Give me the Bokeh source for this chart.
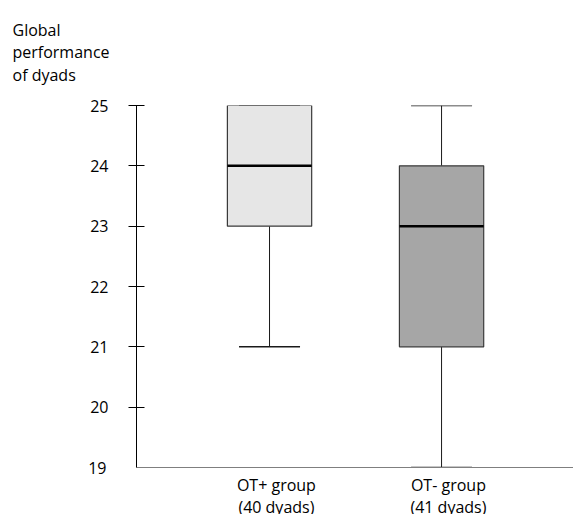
from bokeh.plotting import figure
from bokeh.models import (ColumnDataSource, FixedTicker, Range1d, Whisker, TeeHead,
                          LinearAxis, Title)
from bokeh.embed import file_html
from bokeh.resources import INLINE

# ---- data ----
groups = ["OT+ group", "OT- group"]
sizes = ["(40 dyads)", "(41 dyads)"]
xpos = [1, 2]
q1 = [23, 21]
median = [24, 23]
q3 = [25, 24]
lower = [21, 19]
upper = [25, 25]
fills = ["#e6e6e6", "#a6a6a6"]
y_ticks = [20, 21, 22, 23, 24, 25]
y_corner_tick = [19]
y_title = ["Global", "performance", "of dyads"]

FONT = "Open Sans"
BOX_W = 0.49
X0, X1 = 0.2267, 2.767
LABEL_SHIFT = 0.04  # category labels sit slightly right of the box centres

src = ColumnDataSource(dict(
    x=xpos, q1=q1, med=median, q3=q3, lo=lower, hi=upper, fill=fills,
    mx0=[x - BOX_W / 2 for x in xpos], mx1=[x + BOX_W / 2 for x in xpos],
))

p = figure(frame_width=437, frame_height=362, output_backend="svg",
           toolbar_location=None,
           x_range=Range1d(X0, X1), y_range=Range1d(19, 25),
           min_border_left=136, min_border_top=105, min_border_right=0,
           min_border_bottom=0)
p.extra_x_ranges = {"lab": Range1d(X0 - LABEL_SHIFT, X1 - LABEL_SHIFT)}
p.outline_line_color = None
p.xgrid.visible = False
p.ygrid.visible = False
p.background_fill_color = "white"
p.border_fill_color = "white"

# title used as the horizontal y-axis caption at the top-left
p.title = Title(text="\n".join(y_title), align="left", offset=-124,
                vertical_align="top",
                text_font=FONT, text_font_size="16px", text_font_style="normal",
                text_color="black", text_line_height=1.04, standoff=34)

# whiskers (below boxes)
wl = Whisker(source=src, base="x", lower="lo", upper="q1", dimension="height",
             line_color="#1a1a1a", line_width=1, level="underlay",
             lower_head=TeeHead(size=61, line_color="#1a1a1a", line_width=1.5),
             upper_head=None)
wu = Whisker(source=src, base="x", lower="q3", upper="hi", dimension="height",
             line_color="#1a1a1a", line_width=1, level="underlay",
             upper_head=TeeHead(size=61, line_color="#1a1a1a", line_width=1.5),
             lower_head=None)
p.add_layout(wl)
p.add_layout(wu)

p.vbar(x="x", width=BOX_W, bottom="q1", top="q3", source=src,
       fill_color="fill", line_color="#3a3a3a", line_width=1.2)
p.segment(x0="mx0", y0="med", x1="mx1", y1="med", source=src,
          line_color="black", line_width=2.5)

# y axis
ya = p.yaxis[0]
ya.ticker = FixedTicker(ticks=y_ticks)
ya.minor_tick_line_color = None
ya.major_tick_in = 8
ya.major_tick_out = 8
ya.major_label_standoff = 20
ya.axis_line_color = "black"
ya.major_tick_line_color = "black"
ya.major_label_text_font = FONT
ya.major_label_text_font_size = "16px"
ya.major_label_text_color = "black"

# secondary axis only for the "19" label at the corner (no tick mark there)
ya2 = LinearAxis(ticker=FixedTicker(ticks=y_corner_tick))
ya2.axis_line_color = None
ya2.major_tick_line_color = None
ya2.minor_tick_line_color = None
ya2.major_tick_in = 0
ya2.major_tick_out = 0
ya2.major_label_standoff = -19
ya2.major_label_text_font = FONT
ya2.major_label_text_font_size = "16px"
ya2.major_label_text_color = "black"
p.add_layout(ya2, "left")

# x axis
xa = p.xaxis[0]
xa.x_range_name = "lab"
xa.ticker = FixedTicker(ticks=xpos)
overrides = {}
for x, g, s in zip(xpos, groups, sizes):
    overrides[x] = g + "\n" + s
xa.major_label_overrides = overrides
xa.minor_tick_line_color = None
xa.major_tick_line_color = None
xa.major_tick_in = 0
xa.major_tick_out = 0
xa.major_label_standoff = 6
xa.axis_line_color = "#7f7f7f"
xa.axis_line_width = 1.2
xa.major_label_text_font = FONT
xa.major_label_text_font_size = "16px"
xa.major_label_text_color = "black"
xa.major_label_text_line_height = 1.02

open("out.html", "w").write(file_html(p, INLINE))
